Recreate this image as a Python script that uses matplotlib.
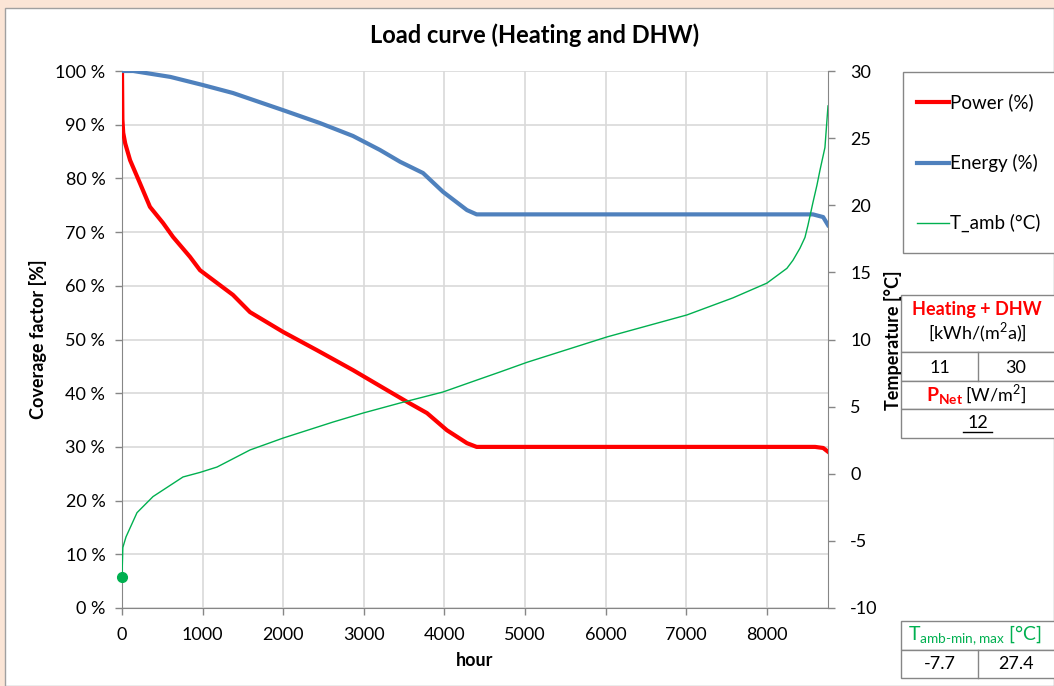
import matplotlib.pyplot as plt
from matplotlib.patches import Rectangle
from matplotlib.lines import Line2D
from matplotlib.ticker import FuncFormatter, MultipleLocator

# --- data ---
power_hours = [0, 5, 15, 40, 100, 223, 347, 509, 633, 843, 968, 1377, 1588, 2000,
               2420, 2866, 3240, 3536, 3784, 4032, 4280, 4400, 8600, 8700, 8760]
power_pct = [100, 91, 88.5, 86.5, 83.4, 79.1, 74.7, 71.7, 69.1, 65.4, 62.9, 58.3, 55.1, 51.4,
             48.0, 44.3, 41.0, 38.4, 36.3, 33.1, 30.7, 30.0, 30.0, 29.8, 29.1]

energy_hours = [0, 140, 600, 1000, 1377, 2000, 2457, 2866, 3200, 3450, 3735, 3983, 4280, 4400,
                8573, 8700, 8760]
energy_pct = [100, 100, 98.9, 97.4, 95.9, 92.7, 90.3, 87.9, 85.3, 83.1, 81.0, 77.5, 74.1, 73.3,
              73.3, 72.8, 71.3]

tamb_hours = [0, 10, 50, 186, 385, 757, 968, 1179, 1588, 2000, 2618, 2990, 3450, 3983, 4404,
              4690, 5025, 6017, 7010, 7580, 8002, 8250, 8325, 8412, 8474, 8511, 8573, 8623,
              8660, 8722, 8760]
tamb_c = [-7.7, -5.5, -4.7, -2.9, -1.7, -0.24, 0.1, 0.5, 1.77, 2.66, 3.85, 4.52, 5.27, 6.09, 6.98,
          7.58, 8.3, 10.19, 11.83, 13.1, 14.2, 15.3, 15.9, 16.8, 17.6, 18.5, 20.2, 21.5,
          22.6, 24.3, 27.4]

heat_dhw = ["11", "30"]
p_net = "12"
tamb_minmax = ["-7.7", "27.4"]

W, H = 1054, 686
plt.rcParams['font.family'] = ['Lato', 'DejaVu Sans']
plt.rcParams['axes.unicode_minus'] = False


def px(x, y):
    # pixel -> figure coords
    return x / W, 1 - y / H


fig = plt.figure(figsize=(W / 100, H / 100), dpi=100)
fig.patch.set_facecolor('#FBE5D6')
fig.patches.append(Rectangle(px(5, H), (W - 5) / W, (H - 8) / H, transform=fig.transFigure,
                             facecolor='white', edgecolor='#A0A0A0', lw=1, zorder=-5))

l, b = px(122, 608)
r, t = px(828, 71)
ax = fig.add_axes([l, b, r - l, t - b])
ax2 = ax.twinx()

ax.set_xlim(0, 8760)
ax.set_ylim(0, 100)
ax2.set_ylim(-10, 30)
ax.patch.set_visible(False)
ax2.patch.set_visible(False)

gray = '#868686'
ax.grid(True, color='#D9D9D9', lw=1.2)
ax.set_axisbelow(True)
ax.set_xticks(range(0, 9000, 1000))
ax.yaxis.set_major_locator(MultipleLocator(10))
ax.yaxis.set_major_formatter(FuncFormatter(lambda v, p: f"{int(v)} %"))
ax2.yaxis.set_major_locator(MultipleLocator(5))

for a in (ax, ax2):
    for s in a.spines.values():
        s.set_color(gray)
    a.spines['top'].set_visible(False)
    a.tick_params(colors=gray, labelcolor='black', labelsize=13, length=5, width=1)
ax.tick_params(axis='y', pad=7)
ax.tick_params(axis='x', pad=9)
ax2.tick_params(axis='y', pad=11)
ax.spines['right'].set_visible(False)
ax2.spines['left'].set_visible(False)
ax2.spines['bottom'].set_visible(False)

ax.plot(power_hours, power_pct, color='#FF0000', lw=3, label='Power (%)', zorder=3)
ax.plot(energy_hours, energy_pct, color='#4F81BD', lw=3, label='Energy (%)', zorder=3)
ln_t, = ax2.plot(tamb_hours, tamb_c, color='#00B050', lw=1, label='T_amb (°C)')
ax2.plot([tamb_hours[0]], [tamb_c[0]], 'o', color='#00B050', ms=7, clip_on=False)

ax.set_xlabel('hour', fontsize=13, fontweight='bold', labelpad=6)
ax.set_ylabel('Coverage factor [%]', fontsize=13, fontweight='bold', labelpad=6)
fig.text(*px(893, 340), 'Temperature [°C]', rotation=90, fontsize=13, fontweight='bold',
         ha='center', va='center', zorder=5)
fig.text(*px(535, 35), 'Load curve (Heating and DHW)', fontsize=17, fontweight='bold',
         ha='center', va='center')

# legend box
fig.patches.append(Rectangle(px(903, 253), (W - 903 + 5) / W, (253 - 72) / H,
                             transform=fig.transFigure, facecolor='white',
                             edgecolor=gray, lw=1))
handles = ax.get_lines()[:2] + [ln_t]
for i, h in enumerate(handles):
    y = 102 + i * 60.5
    fig.lines.append(Line2D([917 / W, 949 / W], [1 - y / H] * 2, transform=fig.transFigure,
                            color=h.get_color(), lw=h.get_linewidth()))
    fig.text(*px(950, y), h.get_label(), fontsize=13.5, ha='left', va='center')

# tables
def box(x0, y0, x1, y1, divider=None):
    fig.patches.append(Rectangle(px(x0, y1), (x1 - x0) / W, (y1 - y0) / H,
                                 transform=fig.transFigure, facecolor='white',
                                 edgecolor=gray, lw=1, zorder=1))
    if divider:
        fig.lines.append(Line2D([divider / W] * 2, [1 - y0 / H, 1 - y1 / H],
                                transform=fig.transFigure, color=gray, lw=1))


box(901, 295, W + 5, 352)
box(901, 352, W + 5, 381, divider=978)
box(901, 381, W + 5, 409)
box(901, 409, W + 5, 438)
fig.text(*px(977, 310), 'Heating + DHW', color='#FF0000', fontsize=13, fontweight='bold',
         ha='center', va='center')
fig.text(*px(977, 333), '[kWh/(m$^\\mathregular{2}$a)]', fontsize=13, ha='center', va='center')
fig.text(*px(940, 368), heat_dhw[0], fontsize=13, ha='center', va='center')
fig.text(*px(1016, 368), heat_dhw[1], fontsize=13, ha='center', va='center')
fig.text(*px(963, 396), 'P$_{\\mathregular{Net}}$', color='#FF0000', fontsize=14,
         fontweight='bold', ha='right', va='center')
fig.text(*px(965, 394), '[W/m$^\\mathregular{2}$]', fontsize=13, ha='left', va='center')
fig.text(*px(978, 423), p_net, fontsize=13, ha='center', va='center')
fig.lines.append(Line2D([963 / W, 992 / W], [1 - 432 / H] * 2, transform=fig.transFigure,
                        color='black', lw=1))

box(901, 621, W + 5, 650)
box(901, 650, W + 5, 678, divider=978)
fig.text(*px(908, 635), 'T$_{\\mathregular{amb\u2010min,max}}$ [°C]', color='#00B050',
         fontsize=14, ha='left', va='center')
fig.text(*px(940, 664), tamb_minmax[0], fontsize=13, ha='center', va='center')
fig.text(*px(1016, 664), tamb_minmax[1], fontsize=13, ha='center', va='center')

fig.savefig('out.png', dpi=100, facecolor=fig.get_facecolor())
